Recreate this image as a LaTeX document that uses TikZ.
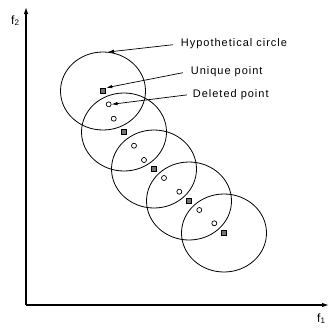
\documentclass[tikz,border=0pt]{standalone}
\usepackage{fontspec}
\setmainfont{Liberation Sans}
\newfontfamily\labelfont[LetterSpace=9]{Liberation Sans}
\usetikzlibrary{arrows.meta}
\tikzset{
  hcircle/.style={draw,line width=0.8pt},
  uniq/.style={draw,rectangle,line width=1pt,fill=black!55,minimum size=5.5pt,inner sep=0pt},
  deleted/.style={draw,circle,line width=0.7pt,minimum size=5pt,inner sep=0pt},
  lbl/.style={font=\fontsize{11}{13}\labelfont,anchor=base west,inner sep=0pt},
  axlbl/.style={font=\fontsize{12}{14}\selectfont,anchor=base west,inner sep=0pt},
  pointer/.style={-{Latex[length=6pt,width=3.5pt]},line width=0.7pt,shorten <=8pt}
}
\begin{document}
\begin{tikzpicture}[x=1pt,y=-1pt]
\useasboundingbox (0,0) rectangle (329,327);
% axes
\coordinate (o) at (26,305);
\coordinate (ytop) at (26,7);
\coordinate (xend) at (329,305);
\draw[-{Latex[length=7pt,width=4.5pt]},line width=1.2pt] (o) -- (ytop);
\draw[-{Latex[length=7pt,width=4.5pt]},line width=1.2pt] (o) -- (xend);
\node[axlbl] (f2) at (11,24) {f\textsubscript{2}};
\node[axlbl] (f1) at (317,322) {f\textsubscript{1}};
% hypothetical circles, each round its unique point
\foreach \i/\x/\y in {1/103/91,2/124/132,3/154/169,4/189/201,5/224/233} {
  \draw[hcircle] (\x,\y) ellipse [x radius=42.5, y radius=39];
  \node[uniq] (u\i) at (\x,\y) {};
}
% deleted points
\foreach \i/\x/\y in {1/108.7/104.3,2/113.7/118.7,3/134/145.7,4/144/160,5/164/178,6/179.3/191.7,7/199.3/210,8/214.3/223.3}
  \node[deleted] (d\i) at (\x,\y) {};
% labels
\node[lbl] (hc) at (180.7,46.7) {Hypothetical circle};
\node[lbl] (up) at (190.7,74) {Unique point};
\node[lbl] (dp) at (192.7,97) {Deleted point};
\coordinate (c1top) at (108,52);
\draw[pointer] (hc.west) -- (c1top);
\draw[pointer] (up.west) -- (u1.north east);
\draw[pointer,shorten <=6pt] (dp.west) -- (d1.east);
\end{tikzpicture}
\end{document}
